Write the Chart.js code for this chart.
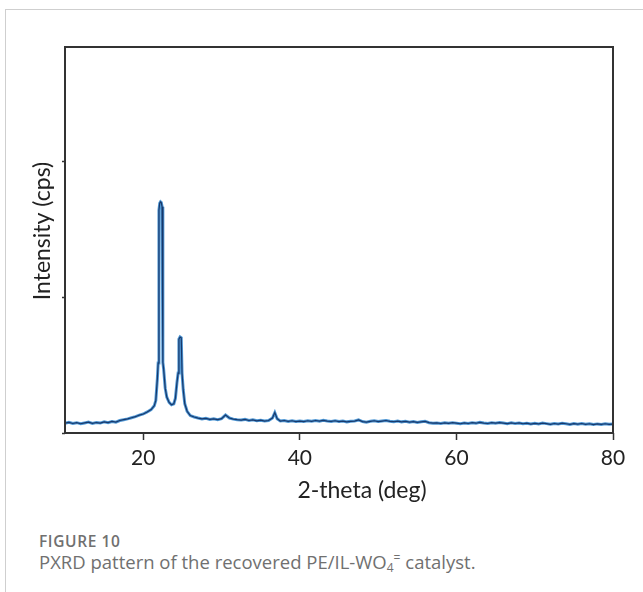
<!DOCTYPE html>
<html>
<head>
<meta charset="utf-8">
<script src="https://cdn.jsdelivr.net/npm/chart.js@4"></script>
<style>
  html, body { margin: 0; padding: 0; background: #fff; }
  body { width: 643px; height: 592px; position: relative; overflow: hidden; }
  #frame { position: absolute; left: 5px; top: 9px; width: 640px; height: 590px;
           border-top: 1px solid #cfcfcf; border-left: 1px solid #cfcfcf; }
  #wrap { position: absolute; left: 0; top: 0; width: 643px; height: 520px; }
  #caption { position: absolute; left: 39px; top: 531px; font-family: "Open Sans", sans-serif; color: #707070; }
  #caption .fig { font-size: 15.5px; font-weight: 600; letter-spacing: 0.6px; line-height: 20px; }
  #caption .txt { font-size: 18.5px; line-height: 22px; }
  #caption sub { font-size: 12px; vertical-align: -3px; line-height: 0; }
  #caption sup { font-size: 12px; vertical-align: 7px; line-height: 0; }
</style>
</head>
<body>
<div id="frame"></div>
<div id="wrap"><canvas id="pxrdChart" width="643" height="520"></canvas></div>
<div id="caption">
  <div class="fig">FIGURE 10</div>
  <div class="txt">PXRD pattern of the recovered PE/IL-WO<sub>4</sub><sup>=</sup> catalyst.</div>
</div>
<script>
const ctx = document.getElementById('pxrdChart').getContext('2d');

// 2-theta positions (deg) and intensity (cps)
const twoTheta = [
  10.0, 10.5, 11.0, 11.5, 12.0, 12.5, 13.0, 13.5, 14.0, 14.5, 15.0, 15.5, 16.0, 16.5,
  17.0, 17.5, 18.0, 18.5, 19.0, 19.5, 20.0, 20.5, 21.0, 21.4, 21.6, 21.8, 21.9,
  22.0, 22.1, 22.2, 22.3, 22.4, 22.5, 22.6, 22.8, 23.0, 23.3, 23.6, 23.9, 24.1, 24.3,
  24.45, 24.55, 24.7, 24.85, 24.95, 25.1, 25.3, 25.6, 26.0, 26.5, 27.0, 27.5, 28.0,
  28.5, 29.0, 29.5, 30.0, 30.5, 31.0, 31.5, 32.0, 32.5, 33.0, 33.5, 34.0, 34.5, 35.0,
  35.5, 36.0, 36.5, 36.8, 37.1, 37.5, 38.0, 38.5, 39.0, 39.5, 40.0, 40.5, 41.0, 41.5,
  42.0, 42.5, 43.0, 43.5, 44.0, 44.5, 45.0, 45.5, 46.0, 46.5, 47.0, 47.5, 48.0, 48.5,
  49.0, 49.5, 50.0, 50.5, 51.0, 51.5, 52.0, 52.5, 53.0, 53.5, 54.0, 54.5, 55.0, 55.5,
  56.0, 56.5, 57.0, 57.5, 58.0, 58.5, 59.0, 59.5, 60.0, 60.5, 61.0, 61.5, 62.0, 62.5,
  63.0, 63.5, 64.0, 64.5, 65.0, 65.5, 66.0, 66.5, 67.0, 67.5, 68.0, 68.5, 69.0, 69.5,
  70.0, 70.5, 71.0, 71.5, 72.0, 72.5, 73.0, 73.5, 74.0, 74.5, 75.0, 75.5, 76.0, 76.5,
  77.0, 77.5, 78.0, 78.5, 79.0, 79.5, 80.0
];
const intensity = [
  72, 78, 70, 76, 68, 74, 80, 71, 77, 73, 82, 76, 85, 80,
  92, 98, 104, 112, 120, 132, 140, 155, 172, 200, 240, 400, 515,
  1640, 1690, 1700, 1695, 1665, 520, 470, 330, 265, 225, 208, 215, 255, 370,
  441, 690, 706, 700, 441, 320, 215, 160, 128, 118, 110, 104, 108,
  100, 104, 98, 106, 132, 110, 102, 98, 95, 100, 92, 97, 90, 94,
  88, 92, 110, 150, 105, 88, 92, 85, 90, 84, 88, 84, 90, 86,
  92, 87, 93, 88, 85, 90, 84, 88, 82, 86, 88, 96, 84, 80,
  86, 90, 84, 88, 92, 86, 83, 88, 82, 86, 80, 84, 78, 82,
  86, 76, 72, 74, 70, 75, 71, 76, 72, 68, 74, 70, 76, 72,
  78, 73, 70, 76, 72, 77, 73, 69, 75, 70, 74, 68, 72, 66,
  71, 67, 73, 69, 64, 70, 66, 72, 68, 63, 69, 65, 70, 64,
  68, 62, 67, 63, 68, 64, 66
];

const xTicks = [20, 40, 60, 80];
const yTicks = [0, 1000, 2000];
const xTitle = '2-theta (deg)';
const yTitle = 'Intensity (cps)';

const points = twoTheta.map((t, i) => ({ x: t, y: intensity[i] }));

// Box around the plot area plus the two axis titles
const framePlugin = {
  id: 'plotFrame',
  afterDraw(chart) {
    const { ctx, chartArea: a } = chart;
    ctx.save();
    ctx.strokeStyle = '#333';
    ctx.lineWidth = 2;
    ctx.strokeRect(a.left, a.top, a.right - a.left, a.bottom - a.top);
    ctx.fillStyle = '#222';
    ctx.font = '23px Lato';
    ctx.textAlign = 'center';
    ctx.textBaseline = 'middle';
    ctx.fillText(xTitle, 362, 491);
    ctx.translate(43, 231);
    ctx.rotate(-Math.PI / 2);
    ctx.fillText(yTitle, 0, 0);
    ctx.restore();
  }
};

new Chart(ctx, {
  type: 'line',
  data: {
    datasets: [
      {
        label: 'core',
        data: points,
        borderColor: '#17386b',
        borderWidth: 1.2,
        pointRadius: 0,
        tension: 0
      },
      {
        label: 'halo',
        data: points,
        borderColor: '#4f97d4',
        borderWidth: 3,
        pointRadius: 0,
        tension: 0
      }
    ]
  },
  options: {
    responsive: false,
    animation: false,
    layout: { padding: { top: 47, right: 30, left: 0, bottom: 0 } },
    scales: {
      x: {
        type: 'linear',
        min: 10,
        max: 80,
        afterBuildTicks: s => { s.ticks = xTicks.map(v => ({ value: v })); },
        afterFit: s => { s.height = 87; },
        border: { display: false },
        grid: { drawOnChartArea: false, tickLength: 7, tickColor: '#333', tickWidth: 1.5 },
        ticks: { color: '#222', font: { family: 'Lato', size: 21 }, padding: 6, maxRotation: 0 }
      },
      y: {
        type: 'linear',
        min: 0,
        max: 2840,
        afterBuildTicks: s => { s.ticks = yTicks.map(v => ({ value: v })); },
        afterFit: s => { s.width = 65; },
        border: { display: false },
        grid: { drawOnChartArea: false, tickLength: 3, tickColor: '#333', tickWidth: 1.5 },
        ticks: { display: false }
      }
    },
    plugins: {
      legend: { display: false },
      tooltip: { enabled: false }
    }
  },
  plugins: [framePlugin]
});
</script>
</body>
</html>
